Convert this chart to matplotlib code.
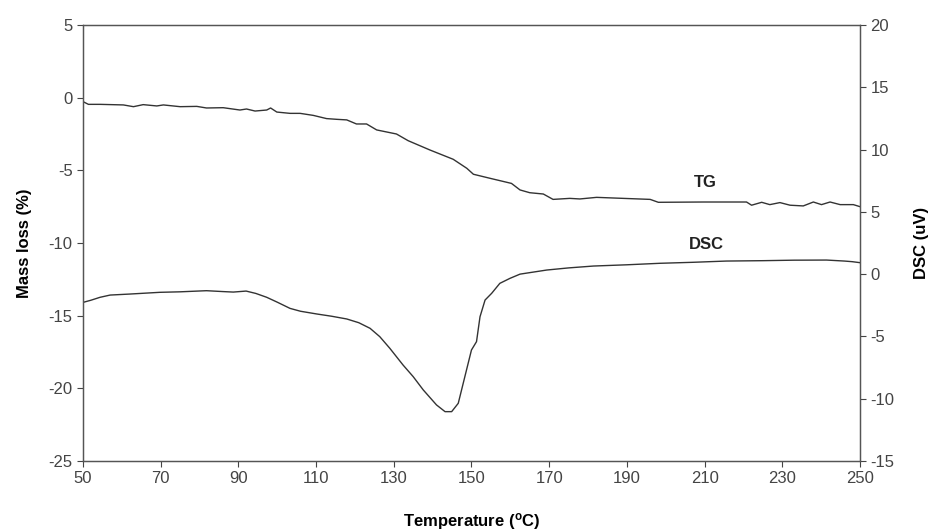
import numpy as np
import matplotlib.pyplot as plt

plt.rcParams['font.family'] = ['Liberation Sans', 'DejaVu Sans']
plt.rcParams['axes.unicode_minus'] = False

# TG curve (mass loss, left axis)
tg_temp = [50, 51.4, 54.4, 60.4, 63, 65.5, 69, 70.7, 75, 79.3, 81.8, 86.1, 90.4, 92.1,
           94.3, 97.3, 98.3, 99.9, 103.3, 105.9, 109.3, 112.7, 115.3, 117.9, 120.4, 123,
           125.6, 130.7, 133.7, 139.3, 145.3, 148.8, 150.5, 154.8, 160.3, 162.5, 165, 168.5,
           171, 175.3, 177.9, 182.2, 196, 198.1, 209.7, 220.8, 222.1, 224.7, 226.8, 229.4,
           232, 235.4, 238, 240.1, 242.3, 244.9, 248.3, 250]
tg_mass = [-0.27, -0.46, -0.46, -0.5, -0.62, -0.48, -0.57, -0.5, -0.62, -0.6, -0.71, -0.69,
           -0.85, -0.78, -0.92, -0.85, -0.71, -0.99, -1.08, -1.08, -1.22, -1.44, -1.49, -1.53,
           -1.81, -1.81, -2.22, -2.5, -2.96, -3.6, -4.24, -4.86, -5.27, -5.55, -5.9, -6.35,
           -6.54, -6.63, -7.0, -6.93, -6.97, -6.86, -7.0, -7.2, -7.18, -7.18, -7.4, -7.2,
           -7.36, -7.22, -7.4, -7.45, -7.18, -7.36, -7.18, -7.36, -7.36, -7.5]

# DSC curve (right axis)
dsc_temp = [50, 52, 54.4, 57, 62, 69.8, 75, 81.8, 86, 88.7, 92, 94.5, 97.3, 100, 103.3,
            106, 110.2, 114, 117.9, 121, 123.9, 126.4, 129, 132.4, 135, 137.6, 141, 143.2,
            144.9, 146.6, 148.3, 150, 151.3, 152.2, 153.5, 155.2, 157.3, 159.9, 162.5, 165,
            169.4, 175, 181.4, 190, 198.5, 207, 215.6, 225, 233, 241.4, 246, 248, 250]
dsc_val = [-2.27, -2.1, -1.86, -1.68, -1.6, -1.46, -1.42, -1.33, -1.4, -1.44, -1.36, -1.55,
           -1.86, -2.25, -2.75, -2.98, -3.2, -3.38, -3.6, -3.9, -4.35, -5.02, -5.96, -7.3,
           -8.23, -9.3, -10.5, -11.04, -11.04, -10.37, -8.23, -6.09, -5.42, -3.42, -2.08,
           -1.54, -0.74, -0.34, 0.0, 0.12, 0.33, 0.5, 0.65, 0.75, 0.87, 0.95, 1.05, 1.08,
           1.12, 1.13, 1.05, 1.0, 0.92]

x_ticks = [50, 70, 90, 110, 130, 150, 170, 190, 210, 230, 250]

fig = plt.figure(figsize=(9.3, 5.32), dpi=100)
ax = fig.add_axes([0.0892, 0.1335, 0.8355, 0.8195])
ax2 = ax.twinx()

ax.plot(tg_temp, tg_mass, color="#333333", lw=1.0)
ax2.plot(dsc_temp, dsc_val, color="#333333", lw=1.0)

ax.set_xlim(50, 250)
ax.set_ylim(-25, 5)
ax2.set_ylim(-15, 20)
ax.set_xticks(x_ticks)
ax.set_yticks(np.arange(-25, 6, 5))
ax2.set_yticks(np.arange(-15, 21, 5))

for a in (ax, ax2):
    a.tick_params(labelsize=12, colors="#444444", length=4, width=0.8)
    for s in a.spines.values():
        s.set_color("#555555")
        s.set_linewidth(0.9)

ax.set_xlabel("Temperature ($\\mathregular{^o}$C)", fontsize=12, fontweight="bold", labelpad=18)
ax.set_ylabel("Mass loss (%)", fontsize=12, fontweight="bold", labelpad=12)
ax2.set_ylabel("DSC (uV)", fontsize=12, fontweight="bold", labelpad=14)

ax.text(210.1, -5.87, "TG", fontsize=12, fontweight="bold", ha="center", va="center", color="#222222")
ax2.text(210.5, 2.34, "DSC", fontsize=12, fontweight="bold", ha="center", va="center", color="#222222")

fig.savefig("out.png", dpi=100)
